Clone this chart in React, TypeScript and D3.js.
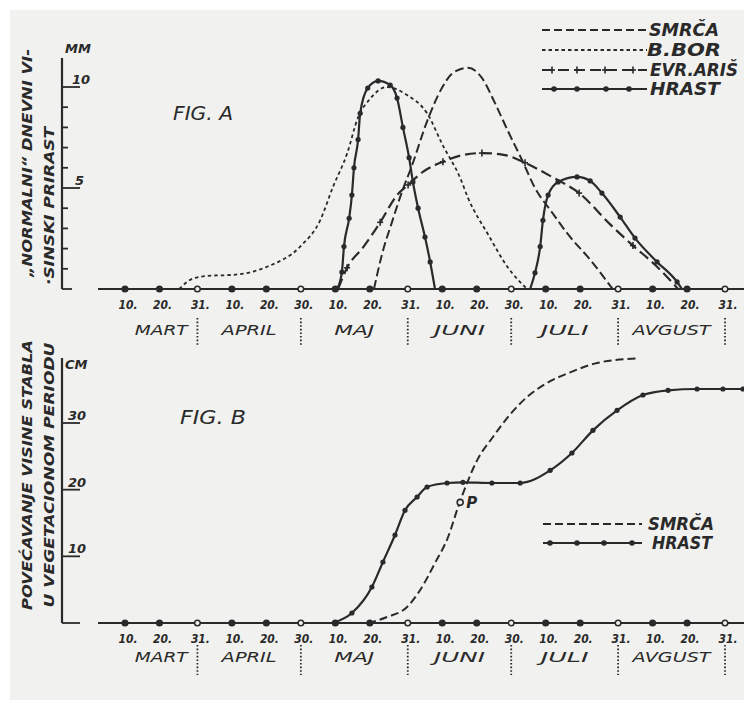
import * as d3 from "d3";

// x values are day-of-year (non-leap year): 10 Mar = 69 ... 31 Aug = 243
const dateTicks = [69, 79, 90, 100, 110, 120, 130, 140, 151, 161, 171, 181, 191, 201, 212, 222, 232, 243];
const dateTickLabels = ["10.", "20.", "31.", "10.", "20.", "30.", "10.", "20.", "31.", "10.", "20.", "30.", "10.", "20.", "31.", "10.", "20.", "31."];
const monthNames = ["MART", "APRIL", "MAJ", "JUNI", "JULI", "AVGUST"];
const monthBounds = [69, 90, 120, 151, 181, 212, 243];

// Fig. A - daily height increment, mm
const yTicksA = [0, 1, 2, 3, 4, 5, 6, 7, 8, 9, 10];
const yLabelsA = [5, 10];
const smrcaA: [number, number][] = [
  [141.2, 0], [143.5, 1.7], [146.4, 3.3], [149.3, 4.8], [152.2, 6.1], [156.6, 8.3], [160.9, 9.95],
  [164.1, 10.7], [168.5, 10.95], [172.5, 10.45], [176.3, 9.2], [180.1, 7.8], [184.1, 6.4],
  [187.9, 5.0], [192.8, 3.8], [197.5, 2.7], [203.9, 1.45], [210.4, 0],
];
const borA: [number, number][] = [
  [84.7, 0], [88.5, 0.5], [93, 0.65], [100.3, 0.7], [110.2, 1.1], [119.8, 2.1], [125.6, 3.4],
  [129.3, 5.05], [133.4, 6.7], [136.6, 8.5], [140, 9.4], [145, 10.0], [150.8, 9.6], [156.6, 8.7],
  [161.2, 7.1], [166.2, 5.5], [168.5, 4.5], [174.3, 2.7], [180.1, 1.05], [185.6, 0],
];
const arisA: [number, number][] = [
  [130.8, 0], [133.4, 1.05], [138, 2.05], [143, 3.3], [147.9, 4.65], [151.1, 5.15], [155.4, 5.8],
  [161.2, 6.3], [166.2, 6.6], [172.5, 6.73], [179.2, 6.63], [185, 6.25], [192.8, 5.55],
  [200.7, 4.75], [209.7, 3.2], [216.3, 2.15], [222.7, 1.2], [229.4, 0],
];
const hrastA1: [number, number][] = [
  [130.5, 0], [131.9, 0.84], [132.5, 2.1], [134, 3.5], [134.8, 4.65], [135.4, 6.0], [136.6, 7.4],
  [137.2, 8.7], [139.4, 9.95], [142.4, 10.3], [145.9, 10.1], [147.9, 9.45], [149.6, 8.0],
  [151.4, 6.5], [152.5, 5.3], [154, 4.0], [156, 2.57], [157.5, 1.34], [158.9, 0],
];
const hrastA2: [number, number][] = [
  [186.5, 0], [187.9, 0.8], [189.4, 2.1], [190.2, 3.4], [191.7, 4.65], [194.6, 5.3], [200.1, 5.55],
  [203.9, 5.35], [207.3, 4.75], [212.6, 3.56], [216.9, 2.52], [223.3, 1.34], [229.1, 0.35], [230.5, 0],
];

// Fig. B - height growth over the season, cm
const yTicksB = [0, 10, 20, 30];
const smrcaB: [number, number][] = [
  [139.5, 0], [145, 0.9], [150.8, 2.4], [154.6, 4.95], [158.9, 9.0], [162.7, 12.9], [165.6, 17.4],
  [168.2, 21.0], [171.1, 24.4], [175.7, 27.9], [180.7, 31.3], [185.6, 33.9], [191.4, 36.0],
  [198.1, 37.6], [205.9, 39.0], [217.5, 39.7],
];
const hrastB: [number, number][] = [
  [129.3, 0], [134.8, 1.5], [140.6, 5.4], [143.8, 9.15], [147.3, 13.2], [150.2, 16.9], [153.7, 18.9],
  [156.6, 20.4], [162.4, 21.0], [167, 21.1], [175.4, 21.0], [183.6, 21.0], [192.3, 22.9],
  [198.6, 25.5], [204.7, 28.9], [211.7, 31.9], [219.2, 34.2], [226.5, 34.9], [234.9, 35.1],
  [242.4, 35.1], [248.2, 35.1],
];
const pointP: [number, number] = [166.2, 18.1];

const ink = "#2a2a2a";
const paper = "#f1f1ef";
const font = "'DejaVu Sans', sans-serif";
// hand-lettered month name widths in px
const monthWidths = [53, 55, 40, 51, 48, 78];

function DateAxis({ x, y0, labelY, monthY, divTop, divBottom }: any) {
  return (
    <g>
      <line x1={98} x2={744} y1={y0} y2={y0} stroke={ink} strokeWidth={2.2} />
      {dateTicks.map((d, i) => (
        <circle key={"c" + i} cx={x(d)} cy={y0} r={2.8} fill={i % 3 === 2 ? paper : ink} stroke={ink} strokeWidth={1.5} />
      ))}
      {dateTicks.map((d, i) => (
        <text key={"t" + i} x={x(d) + 3} y={labelY} fontSize={13} fontStyle="italic" fontWeight="bold" textAnchor="middle" dominantBaseline="central" fill={ink} textLength={19} lengthAdjust="spacingAndGlyphs">
          {dateTickLabels[i]}
        </text>
      ))}
      {monthNames.map((m, i) => (
        <text key={"m" + i} x={x((monthBounds[i] + monthBounds[i + 1]) / 2)} y={monthY} fontSize={14} fontStyle="italic" textAnchor="middle" dominantBaseline="central" fill={ink} textLength={monthWidths[i]} lengthAdjust="spacingAndGlyphs">
          {m}
        </text>
      ))}
      {monthBounds.slice(1).map((d, i) => (
        <line key={"d" + i} x1={x(d)} x2={x(d)} y1={divTop} y2={divBottom} stroke={ink} strokeWidth={1.8} strokeDasharray="1.6 2" />
      ))}
    </g>
  );
}

function RotLabel({ x, y, len, text }: any) {
  return (
    <text transform={`translate(${x},${y}) rotate(-90)`} textAnchor="middle" dominantBaseline="central" fontSize={14.5} fontStyle="italic" fontWeight="bold" fill={ink} textLength={len} lengthAdjust="spacingAndGlyphs">
      {text}
    </text>
  );
}

export default function App() {
  const x = d3.scaleLinear().domain([69, 243]).range([125, 725]);
  const yA = d3.scaleLinear().domain([0, 10]).range([289, 87]);
  const yB = d3.scaleLinear().domain([0, 30]).range([623, 423]);

  const lineA = d3.line<[number, number]>().x((d) => x(d[0])).y((d) => yA(d[1])).curve(d3.curveMonotoneX);
  const lineB = d3.line<[number, number]>().x((d) => x(d[0])).y((d) => yB(d[1])).curve(d3.curveMonotoneX);

  const cross = (cx: number, cy: number, k: string) => (
    <g key={k}>
      <line x1={cx - 3} x2={cx + 3} y1={cy} y2={cy} stroke={ink} strokeWidth={1.6} />
      <line x1={cx} x2={cx} y1={cy - 3.5} y2={cy + 3.5} stroke={ink} strokeWidth={1.6} />
    </g>
  );

  const legendText = (tx: number, ty: number, len: number, t: string) => (
    <text x={tx} y={ty} fontSize={17} fontStyle="italic" fontWeight="bold" fill={ink} textLength={len} lengthAdjust="spacingAndGlyphs">{t}</text>
  );

  return (
    <svg width={744} height={707} style={{ position: "absolute", left: 0, top: 0 }} fontFamily={font}>
      <rect width={744} height={707} fill="#ffffff" />
      <rect x={10} y={10} width={734} height={690} fill={paper} />

      {/* ---------- FIG. A ---------- */}
      <line x1={62} x2={62} y1={58} y2={289} stroke={ink} strokeWidth={2.2} />
      {yTicksA.map((t) => (
        <line key={t} x1={62} x2={t === 5 || t === 10 ? 80 : t === 0 ? 72 : 68} y1={yA(t)} y2={yA(t)} stroke={ink} strokeWidth={1.8} />
      ))}
      {yLabelsA.map((t) => (
        <text key={t} x={t === 10 ? 72 : 75} y={yA(t) - 3} fontSize={13} fontStyle="italic" fontWeight="bold" fill={ink}>{t}</text>
      ))}
      <text x={65} y={53} fontSize={13} fontStyle="italic" fontWeight="bold" fill={ink}>MM</text>
      <RotLabel x={27} y={163} len={228} text="„NORMALNI“ DNEVNI VI-" />
      <RotLabel x={49} y={206} len={158} text="·SINSKI PRIRAST" />
      <text x={173} y={120} fontSize={19} fontStyle="italic" fill={ink} textLength={60} lengthAdjust="spacingAndGlyphs">FIG. A</text>

      <DateAxis x={x} y0={289} labelY={304} monthY={330} divTop={318} divBottom={345} />

      <path d={lineA(borA)!} fill="none" stroke={ink} strokeWidth={1.8} strokeDasharray="3.5 3" />
      <path d={lineA(smrcaA)!} fill="none" stroke={ink} strokeWidth={2} strokeDasharray="9 4" />
      <path d={lineA(arisA)!} fill="none" stroke={ink} strokeWidth={2.2} strokeDasharray="11 5" />
      {arisA.slice(1, -1).filter((_, i) => i % 2 === 0).map((d, i) => cross(x(d[0]), yA(d[1]), "a" + i))}
      <path d={lineA(hrastA1)!} fill="none" stroke={ink} strokeWidth={2.2} />
      <path d={lineA(hrastA2)!} fill="none" stroke={ink} strokeWidth={2.2} />
      {[...hrastA1, ...hrastA2].filter((d) => d[1] > 0).map((d, i) => (
        <circle key={"h" + i} cx={x(d[0])} cy={yA(d[1])} r={2.6} fill={ink} />
      ))}

      {/* legend A */}
      <g>
        <line x1={542} x2={647} y1={30} y2={30} stroke={ink} strokeWidth={2} strokeDasharray="8 4" />
        <line x1={542} x2={647} y1={50} y2={50} stroke={ink} strokeWidth={1.8} strokeDasharray="3.5 3" />
        <line x1={542} x2={647} y1={70} y2={70} stroke={ink} strokeWidth={2.2} strokeDasharray="11 5" />
        {[552, 577, 605, 633].map((cx, i) => cross(cx, 70, "l" + i))}
        <line x1={542} x2={647} y1={89} y2={89} stroke={ink} strokeWidth={2.2} />
        {[554, 577, 606, 629].map((cx) => (
          <circle key={cx} cx={cx} cy={89} r={2.8} fill={ink} />
        ))}
        {legendText(649, 36, 70, "SMRČA")}
        {legendText(647, 56, 74, "B.BOR")}
        {legendText(650, 76, 88, "EVR.ARIŠ")}
        {legendText(650, 95, 70, "HRAST")}
      </g>

      {/* ---------- FIG. B ---------- */}
      <line x1={62} x2={62} y1={358} y2={623} stroke={ink} strokeWidth={2.2} />
      {yTicksB.map((t) => (
        <line key={t} x1={62} x2={80} y1={yB(t)} y2={yB(t)} stroke={ink} strokeWidth={1.8} />
      ))}
      {yTicksB.slice(1).map((t) => (
        <text key={t} x={68} y={yB(t) - 3} fontSize={13} fontStyle="italic" fontWeight="bold" fill={ink}>{t}</text>
      ))}
      <text x={65} y={369} fontSize={13} fontStyle="italic" fontWeight="bold" fill={ink}>CM</text>
      <RotLabel x={27} y={475} len={270} text="POVEĆAVANJE VISINE STABLA" />
      <RotLabel x={49} y={475} len={265} text="U VEGETACIONOM PERIODU" />
      <text x={180} y={424} fontSize={19} fontStyle="italic" fill={ink} textLength={66} lengthAdjust="spacingAndGlyphs">FIG. B</text>

      <DateAxis x={x} y0={623} labelY={638} monthY={657} divTop={645} divBottom={675} />

      <path d={lineB(smrcaB)!} fill="none" stroke={ink} strokeWidth={2} strokeDasharray="8 4" />
      <path d={lineB(hrastB)!} fill="none" stroke={ink} strokeWidth={2.2} />
      {hrastB.slice(1).map((d, i) => (
        <circle key={"hb" + i} cx={x(d[0])} cy={yB(d[1])} r={2.6} fill={ink} />
      ))}
      <circle cx={x(pointP[0])} cy={yB(pointP[1])} r={3} fill={paper} stroke={ink} strokeWidth={1.6} />
      <text x={x(pointP[0]) + 6} y={yB(pointP[1]) + 6} fontSize={15} fontStyle="italic" fontWeight="bold" fill={ink}>P</text>

      {/* legend B */}
      <g>
        <line x1={543} x2={642} y1={524} y2={524} stroke={ink} strokeWidth={2} strokeDasharray="8 4" />
        <line x1={543} x2={642} y1={543} y2={543} stroke={ink} strokeWidth={2.2} />
        {[550, 577, 604, 632].map((cx) => (
          <circle key={cx} cx={cx} cy={543} r={2.8} fill={ink} />
        ))}
        {legendText(648, 530, 66, "SMRČA")}
        {legendText(652, 549, 60, "HRAST")}
      </g>
    </svg>
  );
}
